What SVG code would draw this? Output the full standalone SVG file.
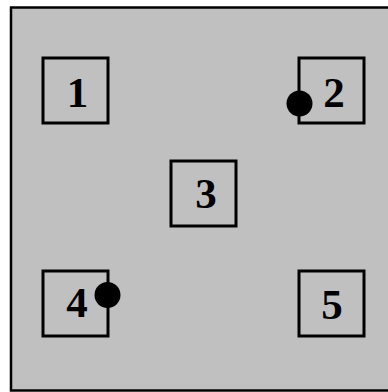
<svg xmlns="http://www.w3.org/2000/svg" width="388" height="392" viewBox="0 0 388 392">
<style>
.box{fill:none;stroke:#000;stroke-width:3}
.lbl{font-family:"Liberation Serif","Times New Roman",serif;font-weight:bold;font-size:43px;text-anchor:middle;fill:#000}
.dot{fill:#000}
</style>
<rect x="11" y="7.5" width="390" height="383" fill="#c0c0c0" stroke="#000" stroke-width="2.5"/>
<g id="node1"><rect class="box" x="43" y="58" width="65" height="65"/><text class="lbl" x="77.5" y="107">1</text></g>
<g id="node2"><rect class="box" x="299" y="58" width="65" height="65"/><text class="lbl" x="334" y="107">2</text></g>
<g id="node3"><rect class="box" x="171" y="161" width="65" height="65"/><text class="lbl" x="206" y="208">3</text></g>
<g id="node4"><rect class="box" x="43" y="271" width="65" height="65"/><text class="lbl" x="77" y="317">4</text></g>
<g id="node5"><rect class="box" x="299" y="271" width="65" height="65"/><text class="lbl" x="332" y="319">5</text></g>
<g id="connectors">
<circle class="dot" cx="299.5" cy="103.5" r="13"/>
<circle class="dot" cx="107.5" cy="295" r="13"/>
</g>
</svg>
